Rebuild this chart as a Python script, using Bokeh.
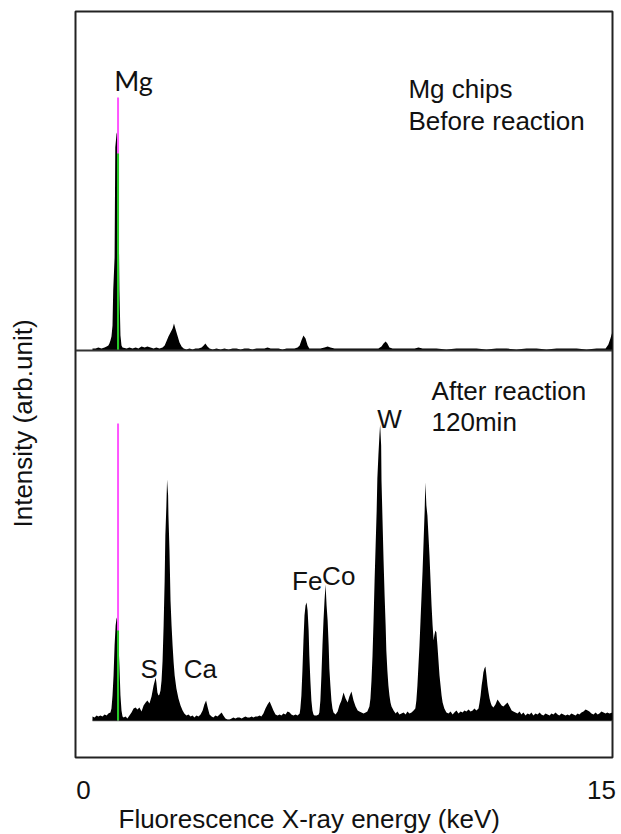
import math
from bokeh.plotting import figure
from bokeh.models import Range1d, Span, Title, FixedTicker
from bokeh.core.properties import value
from bokeh.embed import file_html
from bokeh.resources import INLINE

# ---------------- data ----------------
x_ticks = [0, 15]
x_tick_labels = ["0", "15"]
x_title = "Fluorescence X-ray energy (keV)"
y_title = "Intensity (arb.unit)"

# Top panel: Mg chips, before reaction (energy keV, intensity arb.)
before_kev = [0.26, 0.35, 0.43, 0.52, 0.61, 0.67, 0.72, 0.75, 0.78, 0.81, 0.84, 0.86, 0.90, 0.92, 0.96, 0.98,
              1.01, 1.04, 1.07, 1.10, 1.13, 1.25, 1.33, 1.42, 1.51, 1.59, 1.68, 1.77, 1.85, 1.94, 2.03, 2.11,
              2.20, 2.29, 2.35, 2.40, 2.46, 2.52, 2.58, 2.62, 2.66, 2.72, 2.78, 2.84, 2.90, 2.98, 3.07, 3.16,
              3.24, 3.33, 3.42, 3.48, 3.53, 3.59, 3.65, 3.74, 3.85, 3.97, 4.08, 4.20, 4.32, 4.43, 4.55, 4.66,
              4.78, 4.89, 5.01, 5.13, 5.24, 5.33, 5.42, 5.53, 5.65, 5.76, 5.88, 5.99, 6.11, 6.20, 6.26, 6.31,
              6.37, 6.43, 6.49, 6.54, 6.63, 6.75, 6.86, 6.98, 7.07, 7.15, 7.27, 7.38, 7.50, 7.62, 7.73, 7.85,
              7.96, 8.08, 8.20, 8.31, 8.43, 8.54, 8.63, 8.69, 8.75, 8.80, 8.86, 8.95, 9.06, 9.18, 9.33, 9.47,
              9.59, 9.70, 9.82, 9.93, 10.22, 10.51, 10.80, 11.09, 11.38, 11.67, 11.96, 12.25, 12.54, 12.83,
              13.12, 13.41, 13.70, 13.99, 14.28, 14.57, 14.86, 15.12, 15.20, 15.26, 15.32]
before_int = [2, 2, 3, 2, 3, 4, 5, 7, 10, 14, 25, 60, 93, 203, 218, 215,
              160, 60, 15, 5, 3, 2, 3, 2, 3, 2, 4, 3, 4, 3, 2, 3,
              2, 3, 5, 9, 14, 18, 22, 27, 22, 15, 8, 4, 2, 1, 2, 1,
              2, 2, 3, 5, 7, 4, 2, 1, 2, 1, 2, 1, 2, 2, 1, 2,
              2, 1, 2, 2, 2, 3, 2, 2, 2, 1, 2, 2, 2, 3, 5, 10,
              15, 12, 5, 2, 2, 2, 2, 3, 4, 3, 2, 2, 2, 2, 2, 2,
              2, 2, 2, 2, 2, 2, 4, 7, 9, 7, 3, 2, 2, 2, 2, 2,
              2, 3, 2, 2, 2, 1, 2, 2, 2, 1, 2, 2, 1, 2,
              2, 1, 2, 2, 2, 1, 2, 2, 6, 12, 19]

# Bottom panel: after reaction 120 min
after_kev = [0.26, 0.32, 0.38, 0.43, 0.49, 0.55, 0.61, 0.67, 0.72, 0.78,
             0.81, 0.84, 0.87, 0.90, 0.93, 0.96, 0.98, 1.01, 1.04, 1.07, 1.10, 1.13,
             1.16, 1.22, 1.27, 1.33, 1.39, 1.45, 1.51, 1.56, 1.62, 1.68, 1.74, 1.80, 1.85, 1.91, 1.97, 2.03,
             2.09, 2.11, 2.14, 2.17, 2.20, 2.23, 2.26, 2.29, 2.32, 2.35, 2.37, 2.40, 2.42, 2.45, 2.46, 2.49,
             2.52, 2.55, 2.58, 2.61, 2.64, 2.69, 2.75, 2.81, 2.87, 2.92, 2.98, 3.04, 3.10, 3.16, 3.21, 3.27,
             3.33, 3.39, 3.45, 3.50, 3.55, 3.59, 3.65, 3.71, 3.76, 3.82, 3.88, 3.94, 4.00, 4.05, 4.11, 4.17,
             4.23, 4.29, 4.34, 4.40, 4.46, 4.52, 4.58, 4.63, 4.69, 4.75, 4.81, 4.87, 4.92, 4.98, 5.04, 5.10,
             5.15, 5.21, 5.27, 5.33, 5.39, 5.44, 5.50, 5.56, 5.62, 5.68, 5.73, 5.79, 5.85, 5.91, 5.97, 6.02,
             6.08, 6.14, 6.20, 6.26,
             6.28, 6.31, 6.34, 6.37, 6.40, 6.43, 6.46, 6.49, 6.52, 6.54, 6.57, 6.60, 6.63, 6.66, 6.69, 6.75, 6.81,
             6.83, 6.86, 6.89, 6.92, 6.95, 6.98, 7.01, 7.04, 7.07, 7.10, 7.12, 7.15, 7.18, 7.21, 7.24, 7.30,
             7.36, 7.41, 7.47, 7.53, 7.59, 7.65, 7.70, 7.76, 7.82, 7.88, 7.94, 7.99, 8.05, 8.11, 8.17, 8.22,
             8.28, 8.31, 8.34, 8.37, 8.40, 8.43, 8.46, 8.49, 8.51, 8.54, 8.57, 8.59, 8.62, 8.63, 8.66, 8.69,
             8.72, 8.75, 8.77, 8.80, 8.83, 8.86, 8.89, 8.92, 8.98, 9.04, 9.09, 9.15, 9.21, 9.27, 9.33, 9.38,
             9.44, 9.50, 9.56, 9.61,
             9.64, 9.67, 9.70, 9.73, 9.76, 9.79, 9.82, 9.85, 9.88, 9.90, 9.93, 9.96, 9.99, 10.02, 10.05, 10.08,
             10.11, 10.14, 10.16, 10.19, 10.22, 10.25, 10.28, 10.31, 10.34, 10.37, 10.40, 10.45, 10.51, 10.57,
             10.63, 10.69, 10.74, 10.80, 10.86, 10.92, 10.98, 11.03, 11.09, 11.15, 11.21, 11.27, 11.32, 11.38,
             11.44,
             11.47, 11.50, 11.53, 11.56, 11.58, 11.61, 11.64, 11.67, 11.70, 11.73, 11.76, 11.79, 11.82, 11.87,
             11.93, 11.99, 12.05, 12.11, 12.16, 12.22, 12.28, 12.34, 12.40, 12.45, 12.51, 12.57, 12.63, 12.68,
             12.74, 12.80, 12.86, 12.92, 12.97, 13.03, 13.09, 13.15, 13.21, 13.26, 13.32, 13.38, 13.44, 13.50,
             13.55, 13.61, 13.67, 13.73, 13.78, 13.84, 13.90, 13.96, 14.02, 14.07, 14.13, 14.19, 14.25, 14.31,
             14.36, 14.42, 14.48, 14.54, 14.60, 14.65, 14.71, 14.77, 14.83, 14.89, 14.94, 15.00, 15.06, 15.12,
             15.17, 15.23, 15.32]
after_int = [4, 3, 5, 4, 5, 4, 6, 5, 7, 8,
             12, 25, 45, 75, 95, 103, 100, 80, 55, 25, 10, 4,
             3, 4, 2, 5, 8, 12, 13, 11, 13, 9, 15, 18, 20, 17, 24, 35,
             43, 38, 28, 25, 26, 30, 40, 60, 95, 140, 185, 215, 241, 225, 205, 170,
             120, 95, 75, 58, 45, 32, 22, 15, 10, 7, 5, 6, 4, 5, 3, 5,
             4, 6, 10, 16, 20, 14, 6, 4, 3, 5, 4, 6, 8, 5, 2, 1,
             1, 2, 3, 2, 3, 3, 2, 3, 4, 3, 3, 4, 3, 4, 4, 5,
             4, 7, 12, 16, 19, 15, 10, 6, 5, 6, 5, 7, 6, 9, 8, 6,
             5, 6, 5, 7,
             12, 25, 50, 80, 105, 115, 118, 110, 90, 65, 40, 20, 10, 6, 5, 5, 6,
             8, 20, 45, 75, 100, 120, 136, 115, 100, 75, 52, 35, 20, 12, 8, 6,
             9, 15, 20, 28, 22, 18, 24, 29, 20, 14, 10, 9, 8, 7, 8, 9,
             14, 22, 40, 65, 100, 140, 175, 210, 242, 265, 285, 296, 275, 240, 200, 160,
             125, 95, 70, 50, 35, 25, 18, 14, 10, 7, 9, 6, 7, 8, 6, 9,
             7, 8, 10, 12,
             20, 35, 55, 75, 100, 125, 150, 180, 210, 238, 215, 205, 185, 165, 140, 115,
             95, 80, 85, 90, 88, 75, 60, 45, 35, 25, 18, 12, 8, 7,
             9, 6, 8, 10, 7, 9, 8, 10, 9, 11, 9, 10, 12, 10,
             12,
             18, 25, 35, 42, 48, 52, 54, 45, 35, 28, 22, 18, 15, 13,
             16, 21, 18, 15, 14, 16, 18, 14, 10, 9, 8, 7, 9, 6,
             8, 5, 7, 6, 8, 5, 7, 6, 8, 6, 5, 7, 6, 5,
             7, 6, 8, 6, 5, 7, 6, 5, 6, 5, 7, 6, 5, 7,
             6, 8, 9, 11, 10, 9, 7, 6, 8, 6, 7, 9, 8, 7,
             8, 7, 8]

# Mg reference marker lines (keV, heights of magenta and green lines)
mg_marker_kev = 1.0
before_marker = [253, 197]
after_marker = [297, 90]

# Element annotations
before_texts = ["Mg chips", "Before reaction"]
before_text_kev = [9.41, 9.41]
before_text_int = [262, 230]
mg_text = ["Mg"]
mg_text_kev = [1.45]
mg_text_int = [270]

after_texts = ["After reaction", "120min", "W", "S", "Ca", "Fe", "Co"]
after_text_kev = [10.08, 10.08, 8.86, 1.65, 2.90, 6.04, 6.91]
after_text_int = [330, 299, 302, 52, 52, 140, 145]
after_text_align = ["left", "left", "center", "left", "left", "left", "left"]

# ---------------- figure ----------------
FONT = "Liberation Sans"
TXT = "#111111"

p = figure(width=620, height=834,
           x_range=Range1d(-0.232, 15.32), y_range=Range1d(-37, 709),
           output_backend="svg", toolbar_location=None,
           min_border_left=75, min_border_top=11, min_border_right=8, min_border_bottom=77)
p.extra_y_ranges = {"top": Range1d(-407, 339)}
p.background_fill_color = "white"
p.border_fill_color = "white"
p.outline_line_color = "#222222"
p.outline_line_width = 2
p.grid.visible = False

ax = p.xaxis[0]
ax.ticker = FixedTicker(ticks=x_ticks)
ax.major_label_overrides = {t: l for t, l in zip(x_ticks, x_tick_labels)}
ax.axis_line_color = None
ax.major_tick_line_color = None
ax.minor_tick_line_color = None
ax.major_tick_out = 0
ax.major_tick_in = 0
ax.minor_tick_out = 0
ax.minor_tick_in = 0
ax.major_label_text_font = FONT
ax.major_label_text_font_size = "26px"
ax.major_label_text_color = TXT
ax.major_label_standoff = 23

# left axis: one invisible baseline tick, unlabeled; it only reserves room
# between the frame and the y title
yax = p.yaxis[0]
yax.ticker = FixedTicker(ticks=[0])
yax.major_label_overrides = {0: ""}
yax.major_label_text_font_size = "1px"
yax.axis_line_color = None
yax.major_tick_line_color = None
yax.minor_tick_line_color = None
yax.major_tick_out = 38
yax.major_tick_in = 0
yax.minor_tick_out = 0
yax.minor_tick_in = 0
yax.major_label_standoff = 0

# axis titles
p.add_layout(Title(text=x_title, align="left", offset=43, standoff=0,
                   text_font=FONT, text_font_size="26px", text_font_style="normal",
                   text_color=TXT), "below")
p.add_layout(Title(text=y_title, align="left", offset=230, standoff=0,
                   text_font=FONT, text_font_size="26px", text_font_style="normal",
                   text_color=TXT), "left")

# spectra
p.varea(x=before_kev, y1=[0] * len(before_kev), y2=before_int, fill_color="black", y_range_name="top")
p.line(x=[after_kev[0], after_kev[-1]], y=[0, 0], line_color="#555555", line_width=1.5)
p.varea(x=after_kev, y1=[0] * len(after_kev), y2=after_int, fill_color="black")

# divider (top panel baseline)
p.add_layout(Span(location=0, dimension="width", line_color="#333333", line_width=2, y_range_name="top"))

# Mg marker lines
p.segment(x0=[mg_marker_kev], y0=[0], x1=[mg_marker_kev], y1=[before_marker[0]],
          line_color="#ff55ff", line_width=2, y_range_name="top")
p.segment(x0=[mg_marker_kev], y0=[0], x1=[mg_marker_kev], y1=[before_marker[1]],
          line_color="#22cc22", line_width=2, y_range_name="top")
p.segment(x0=[mg_marker_kev], y0=[0], x1=[mg_marker_kev], y1=[after_marker[0]],
          line_color="#ff55ff", line_width=2)
p.segment(x0=[mg_marker_kev], y0=[0], x1=[mg_marker_kev], y1=[after_marker[1]],
          line_color="#22cc22", line_width=2)

# texts
p.text(x=before_text_kev, y=before_text_int, text=before_texts, text_font=value(FONT),
       text_font_size="26px", text_color=TXT, text_align="left", text_baseline="alphabetic",
       y_range_name="top")
p.text(x=mg_text_kev, y=mg_text_int, text=mg_text, text_font=value("Lato"),
       text_font_size="27px", text_color=TXT, text_align="center", text_baseline="alphabetic",
       y_range_name="top")
p.text(x=after_text_kev, y=after_text_int, text=after_texts, text_font=value(FONT),
       text_font_size="26px", text_color=TXT, text_align=after_text_align, text_baseline="alphabetic")

open("out.html", "w").write(file_html(p, INLINE))
